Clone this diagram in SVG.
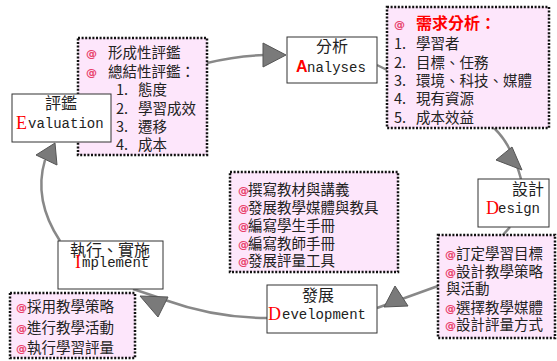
<svg xmlns="http://www.w3.org/2000/svg" width="557" height="361" viewBox="0 0 557 361">
<style>
.dot{fill:#fde6fb;stroke:#111;stroke-width:2.5;stroke-dasharray:2 1.6}
.lbl{fill:#fff;stroke:#333;stroke-width:1}
.cn{font-family:"Noto Sans CJK TC","Noto Sans CJK SC",sans-serif;font-size:14.5px;fill:#222}
.cl{font-family:"Noto Sans CJK TC","Noto Sans CJK SC",sans-serif;font-size:16px;fill:#222;text-anchor:middle}
.en{font-family:"Liberation Mono",monospace;font-size:14px;fill:#222}
.ini{font-family:"Liberation Serif",serif;font-size:18px;fill:#ff0000}
.at{font-family:"DejaVu Sans",sans-serif;font-size:11px;fill:#e8406a;font-weight:bold}
.ln{fill:none;stroke:#888;stroke-width:2.5}
.tri{fill:#7a7a7a;stroke:#555;stroke-width:1}
</style>
<rect width="557" height="361" fill="#fff"/>
<g id="connectors">
<path class="ln" d="M207,63 Q235,56 264,55"/>
<polygon class="tri" points="263,43 263,67 286,55"/>
<path class="ln" d="M377,65 L387,70"/>
<path class="ln" d="M494,128 Q512,145 521,179"/>
<polygon class="tri" points="496,160 512,147 522,170"/>
<path class="ln" d="M510,227 L502,236"/>
<path class="ln" d="M438,286 L377,308"/>
<polygon class="tri" points="395,286 384,307 408,306"/>
<path class="ln" d="M267,318 Q215,318 165,300"/>
<path class="ln" d="M160,298 L133,289"/>
<polygon class="tri" points="140,296 168,297 158,317"/>
<path class="ln" d="M60,241 Q33,200 45,160"/>
<polygon class="tri" points="36,155 55,143 57,165"/>
</g>
<g id="formative">
<rect class="dot" x="78" y="38" width="129" height="117"/>
<text class="at" x="86" y="57">@</text>
<text class="at" x="86" y="76">@</text>
<text class="cn" x="108" y="58">形成性評鑑</text>
<text class="cn" x="108" y="77">總結性評鑑：</text>
<text class="cn" y="95"><tspan x="116">1.</tspan><tspan x="138">態度</tspan></text>
<text class="cn" y="114"><tspan x="116">2.</tspan><tspan x="138">學習成效</tspan></text>
<text class="cn" y="132"><tspan x="116">3.</tspan><tspan x="138">遷移</tspan></text>
<text class="cn" y="150"><tspan x="116">4.</tspan><tspan x="138">成本</tspan></text>
</g>
<g id="evaluation">
<rect class="lbl" x="12" y="94" width="99" height="48"/>
<text class="cl" x="61" y="109">評鑑</text>
<text class="ini" x="16" y="129">E</text>
<text class="en" x="28" y="128">valuation</text>
</g>
<g id="analysis">
<rect class="lbl" x="287" y="37" width="90" height="46"/>
<text class="cl" x="332" y="52">分析</text>
<text x="296" y="72" font-family="Liberation Sans, sans-serif" font-size="16" font-weight="bold" fill="#ff0000">A</text>
<text class="en" x="307" y="72">nalyses</text>
</g>
<g id="needs">
<rect class="dot" x="387" y="7" width="162" height="121"/>
<text class="at" x="394" y="28">@</text>
<text x="416" y="29" font-family="Noto Sans CJK TC, sans-serif" font-size="16" font-weight="bold" fill="#ff0000">需求分析：</text>
<text class="cn" y="49"><tspan x="394">1.</tspan><tspan x="416">學習者</tspan></text>
<text class="cn" y="68"><tspan x="394">2.</tspan><tspan x="416">目標、任務</tspan></text>
<text class="cn" y="86"><tspan x="394">3.</tspan><tspan x="416">環境、科技、媒體</tspan></text>
<text class="cn" y="104"><tspan x="394">4.</tspan><tspan x="416">現有資源</tspan></text>
<text class="cn" y="123"><tspan x="394">5.</tspan><tspan x="416">成本效益</tspan></text>
</g>
<g id="design">
<rect class="lbl" x="478" y="179" width="71" height="48"/>
<text class="cl" x="528" y="195">設計</text>
<text class="ini" x="486" y="214">D</text>
<text class="en" x="498" y="213">esign</text>
</g>
<g id="design-tasks">
<rect class="dot" x="438" y="235" width="117" height="103"/>
<text class="at" x="445" y="258">@</text>
<text class="at" x="445" y="276">@</text>
<text class="at" x="445" y="312">@</text>
<text class="at" x="445" y="329">@</text>
<text class="cn" x="456" y="259">訂定學習目標</text>
<text class="cn" x="456" y="277">設計教學策略</text>
<text class="cn" x="446" y="294">與活動</text>
<text class="cn" x="456" y="313">選擇教學媒體</text>
<text class="cn" x="456" y="330">設計評量方式</text>
</g>
<g id="development-tasks">
<rect class="dot" x="230" y="172" width="168" height="100"/>
<text class="at" x="238" y="194">@</text>
<text class="at" x="238" y="212">@</text>
<text class="at" x="238" y="230">@</text>
<text class="at" x="238" y="248">@</text>
<text class="at" x="238" y="265">@</text>
<text class="cn" x="248" y="195">撰寫教材與講義</text>
<text class="cn" x="248" y="213">發展教學媒體與教具</text>
<text class="cn" x="248" y="231">編寫學生手冊</text>
<text class="cn" x="248" y="249">編寫教師手冊</text>
<text class="cn" x="248" y="266">發展評量工具</text>
</g>
<g id="development">
<rect class="lbl" x="267" y="285" width="110" height="48"/>
<text class="cl" x="318" y="301">發展</text>
<text class="ini" x="268" y="320">D</text>
<text class="en" x="282" y="319">evelopment</text>
</g>
<g id="implement">
<rect class="lbl" x="58" y="241" width="105" height="48"/>
<text class="cl" x="110" y="256">執行、實施</text>
<text class="ini" x="75" y="268">I</text>
<text class="en" x="82" y="267">mplement</text>
</g>
<g id="implement-tasks">
<rect class="dot" x="10" y="293" width="125" height="65"/>
<text class="at" x="16" y="311">@</text>
<text class="at" x="16" y="332">@</text>
<text class="at" x="16" y="352">@</text>
<text class="cn" x="27" y="312">採用教學策略</text>
<text class="cn" x="27" y="333">進行教學活動</text>
<text class="cn" x="27" y="353">執行學習評量</text>
</g>
</svg>
